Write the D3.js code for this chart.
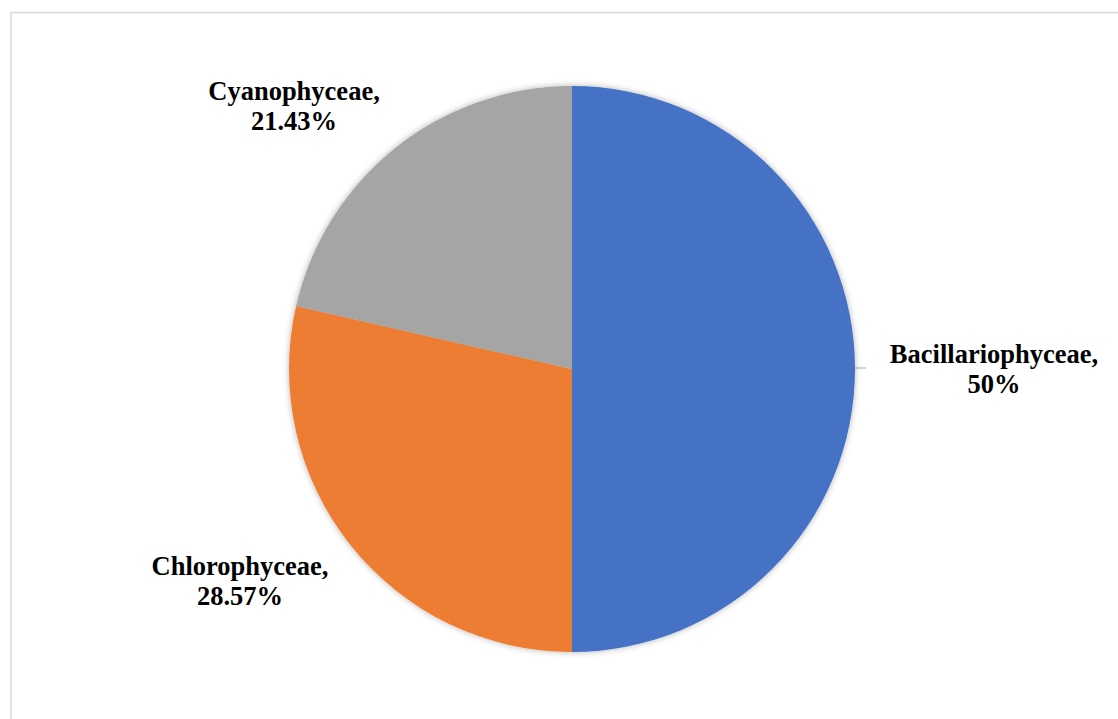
<!DOCTYPE html>
<html>
<head>
<meta charset="utf-8">
<title>Phytoplankton classes</title>
<style>
  html, body { margin: 0; padding: 0; background: #fff; }
  svg { display: block; }
  text { font-family: 'Liberation Serif', 'Times New Roman', serif; font-weight: bold; fill: #000; }
</style>
<script src="https://d3js.org/d3.v7.min.js"></script>
</head>
<body>
<div id="chart"></div>
<script>
// ---- data ----
const classes = ["Bacillariophyceae", "Chlorophyceae", "Cyanophyceae"];
const shares = [50, 28.57, 21.43];
const shareLabels = ["50%", "28.57%", "21.43%"];
const colors = ["#4472C4", "#ED7D31", "#A5A5A5"];

const width = 1118, height = 719;
const cx = 572, cy = 369, radius = 283;

const svg = d3.select("#chart").append("svg")
    .attr("width", width)
    .attr("height", height);

// chart area border (runs off the right/bottom of the picture)
svg.append("rect")
    .attr("x", 11).attr("y", 12.5)
    .attr("width", 1300).attr("height", 900)
    .attr("fill", "none")
    .attr("stroke", "#d9d9d9")
    .attr("stroke-width", 1.5);

// soft shadow around the pie
const defs = svg.append("defs");
const f = defs.append("filter").attr("id", "shadow")
    .attr("x", "-10%").attr("y", "-10%").attr("width", "120%").attr("height", "120%");
f.append("feDropShadow")
    .attr("dx", 0).attr("dy", 0)
    .attr("stdDeviation", 3)
    .attr("flood-color", "#000")
    .attr("flood-opacity", 0.3);

const pie = d3.pie().sort(null).value(d => d.v);
const arc = d3.arc().innerRadius(0).outerRadius(radius);

const rows = classes.map((c, i) => ({name: c, v: shares[i], label: shareLabels[i], color: colors[i]}));
const arcs = pie(rows);

const g = svg.append("g").attr("transform", `translate(${cx},${cy})`);

g.append("g").attr("filter", "url(#shadow)")
  .selectAll("path")
  .data(arcs)
  .enter()
  .append("path")
    .attr("d", arc)
    .attr("fill", d => d.data.color);

// label positions, relative to the pie centre
const labelPos = [
  {x: 422, y: -6},   // Bacillariophyceae
  {x: -332, y: 206}, // Chlorophyceae
  {x: -278, y: -269} // Cyanophyceae
];

// leader line for the right-hand label
g.append("line")
    .attr("x1", radius).attr("y1", -1)
    .attr("x2", radius + 11).attr("y2", -1)
    .attr("stroke", "#a6a6a6")
    .attr("stroke-width", 1);

const labels = g.selectAll("text.lbl")
  .data(arcs)
  .enter()
  .append("text")
    .attr("class", "lbl")
    .attr("text-anchor", "middle")
    .attr("font-size", 26.5)
    .attr("transform", (d, i) => `translate(${labelPos[i].x},${labelPos[i].y})`);

labels.append("tspan").attr("x", 0).attr("dy", 0).text(d => d.data.name + ",");
labels.append("tspan").attr("x", 0).attr("dy", 30).text(d => d.data.label);
</script>
</body>
</html>
